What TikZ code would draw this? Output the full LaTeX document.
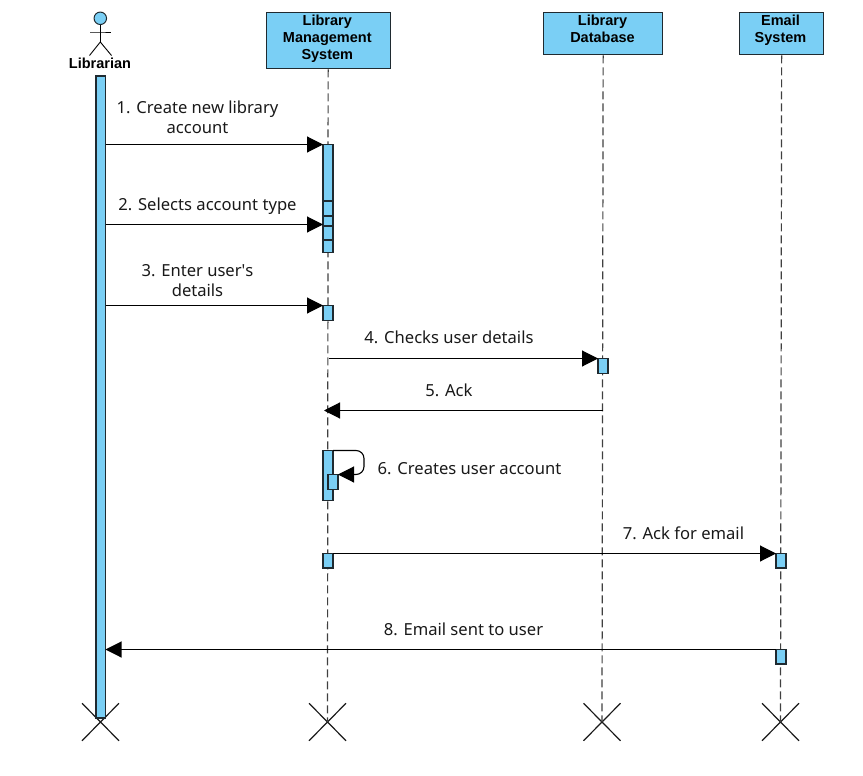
\documentclass[tikz,border=0pt]{standalone}
\usepackage{fontspec}
\setmainfont[Ligatures=NoCommon]{Noto Sans}
\newfontfamily\boxfont{Liberation Sans}
\usetikzlibrary{arrows.meta,shapes.misc}
\definecolor{actfill}{HTML}{7ACFF5}
\definecolor{edge}{HTML}{1F2A30}
\tikzset{
  x=1pt,y=-1pt,
  headbox/.style={draw=edge,fill=actfill,line width=1.3pt,inner sep=0pt,anchor=north west},
  headtext/.style={inner sep=0pt,align=center,anchor=north,font=\boxfont\bfseries\fontsize{14.5}{17.4}\selectfont},
  act/.style={draw=edge,fill=actfill,line width=1.3pt,inner sep=0pt,anchor=north west,minimum width=10pt,outer sep=0pt},
  life/.style={draw=black!75,line width=1.2pt,dash pattern=on 8pt off 4pt},
  msg/.style={draw=black,line width=1.1pt,-{Triangle[length=16pt,width=16pt]}},
  lbl/.style={font=\fontsize{16.6}{20}\selectfont,align=center,inner sep=0pt,text=black!90},
  xmark/.style={cross out,draw=black!90,line width=1.2pt,minimum width=37pt,minimum height=37.5pt,inner sep=0pt,outer sep=0pt},
}
\begin{document}
\begin{tikzpicture}
\useasboundingbox (0,0) rectangle (863,776);
% lifeline heads
\node[headbox,minimum width=124pt,minimum height=56pt] (lms) at (266,12) {};
\node[headbox,minimum width=119pt,minimum height=42pt] (db) at (543,12) {};
\node[headbox,minimum width=84pt,minimum height=42pt] (em) at (739,12) {};
\node[headtext] (lmst) at (327.3,14.3) {Library\\Management\\System};
\node[headtext] (dbt) at (602.5,14.3) {Library\\Database};
\node[headtext] (emt) at (780.5,14.3) {Email\\System};
% destruction marks
\node[xmark] (xlib) at (100.5,722) {};
\node[xmark] (xlms) at (327.5,722) {};
\node[xmark] (xdb) at (602,722) {};
\node[xmark] (xem) at (780.5,722) {};
% lifelines
\draw[life] (lms.south) ++(-.5,0) -- (xlms.center);
\draw[life] (db.south) -- (xdb.center);
\draw[life] (em.south) -- (xem.center);
% actor
\node[circle,draw=edge,fill=actfill,line width=1pt,minimum size=12.5pt,inner sep=0pt] (ahead) at (100.3,18.3) {};
\coordinate (ahip) at (100.3,42);
\coordinate (aneck) at (100.3,32);
\draw[line width=.9pt] (ahead.south) -- (ahip);
\draw[line width=.9pt] (90,32) -- (aneck) -- (111,32);
\draw[line width=.9pt] (89.5,55.5) -- (ahip) -- (111.5,55.5);
\node[font=\boxfont\bfseries\fontsize{14.5}{17}\selectfont,inner sep=0pt] (alabel) at (100,63) {Librarian};
% activations
\node[act,minimum width=9.5pt,minimum height=642pt] (alib) at (96,76) {};
\node[act,minimum height=108pt] (a1) at (323,144.5) {};
\node[act,minimum height=15pt] (a2a) at (323,201) {};
\node[act,minimum height=14pt] (a2b) at (323,226) {};
\node[act,minimum height=15pt] (a3) at (323,305.5) {};
\node[act,minimum height=15pt] (a4) at (598,358.5) {};
\node[act,minimum height=50pt] (a6) at (323,450.5) {};
\node[act,minimum height=15pt] (a6b) at (328,474.5) {};
\node[act,minimum height=14.5pt] (a7) at (323,553.5) {};
\node[act,minimum height=14.5pt] (a7e) at (776,553.5) {};
\node[act,minimum height=14.5pt] (a8e) at (776,649.5) {};
% messages
\draw[msg] (alib.east |- a1.north west) -- (a1.north west);
\coordinate (m2) at (a1.west |- 0,224.5);
\draw[msg] (alib.east |- m2) -- (m2);
\draw[msg] (alib.east |- a3.north west) -- (a3.north west);
\draw[msg] (lms.south |- a4.north west) -- (a4.north west);
\coordinate (m5a) at (db.south |- 0,410.5);
\coordinate (m5b) at (324,410.5);
\draw[msg] (m5a) -- (m5b);
\draw[msg,rounded corners=8pt] (a6.north east) -- (364,450.5) -- (364,474.5) -- (a6b.north east);
\draw[msg] (a7.north east) -- (a7e.north west);
\draw[msg] (a8e.north west) -- (alib.east |- a8e.north west);
% labels
\node[lbl] (l1) at (197.5,117) {1. Create new library\\account};
\node[lbl] (l2) at (207.5,206.5) {2. Selects account type};
\node[lbl] (l3) at (197.5,281) {3. Enter user\textquotesingle s\\details};
\node[lbl] (l4) at (449,337) {4. Checks user details};
\node[lbl] (l5) at (449,390) {5. Ack};
\node[lbl] (l6) at (469.5,469) {6. Creates user account};
\node[lbl] (l7) at (683.5,533) {7. Ack for email};
\node[lbl] (l8) at (463.5,629) {8. Email sent to user};
\end{tikzpicture}
\end{document}
